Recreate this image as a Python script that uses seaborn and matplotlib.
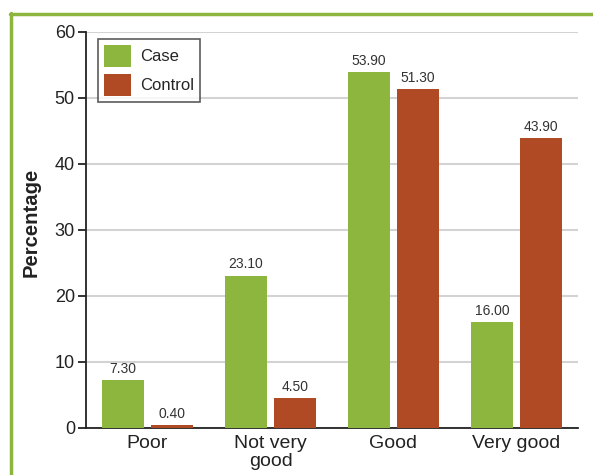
import matplotlib
matplotlib.use("Agg")
import matplotlib.pyplot as plt
import matplotlib.patches as mpatches
import seaborn as sns
import pandas as pd

categories = ["Poor", "Not very\ngood", "Good", "Very good"]
case_values = [7.30, 23.10, 53.90, 16.00]
control_values = [0.40, 4.50, 51.30, 43.90]
groups = ["Case", "Control"]
yticks = [0, 10, 20, 30, 40, 50, 60]

green = "#8db63f"
rust = "#b04a25"

df = pd.DataFrame({
    "category": categories * 2,
    "value": case_values + control_values,
    "group": [groups[0]] * len(categories) + [groups[1]] * len(categories),
})

sns.set_theme(style="white")
plt.rcParams["font.family"] = ["Liberation Sans", "DejaVu Sans"]

W, H = 593, 475
fig = plt.figure(figsize=(W / 100, H / 100), dpi=100)
ax = fig.add_axes([86 / W, 47 / H, (578 - 86) / W, (428 - 32) / H])

sns.barplot(data=df, x="category", y="value", hue="group",
            palette=[green, rust], width=0.8, gap=0.16,
            saturation=1, ax=ax, legend=False, zorder=3,
            linewidth=0, edgecolor="none")

ax.set_ylim(0, 60)
ax.set_xlim(-0.5, len(categories) - 0.5)
ax.set_yticks(yticks)
ax.set_yticklabels([str(t) for t in yticks], fontsize=13, color="#222222")
ax.yaxis.grid(True, color="#d3d3d3", linewidth=1.5, zorder=0)
ax.set_axisbelow(True)

# category labels centred, tick marks on group boundaries
ax.set_xticks(range(len(categories)))
ax.set_xticklabels(categories, fontsize=14, color="#222222", linespacing=1.1)
ax.tick_params(axis="x", length=0, pad=5)
ax.set_xticks([i - 0.5 for i in range(len(categories) + 1)], minor=True)
ax.tick_params(axis="x", which="minor", length=7, width=1.3, color="#222222", direction="out")
ax.tick_params(axis="y", length=6, width=1.3, color="#222222", direction="out", left=True, pad=2)

for side in ["top", "right"]:
    ax.spines[side].set_visible(False)
for side in ["left", "bottom"]:
    ax.spines[side].set_color("#222222")
    ax.spines[side].set_linewidth(1.3)

ax.set_xlabel("")
ax.set_ylabel("Percentage", fontsize=14.6, fontweight="bold", color="#222222")
ax.yaxis.set_label_coords(-0.093, 0.52)

for container in ax.containers:
    ax.bar_label(container, labels=[f"{v:.2f}" for v in container.datavalues],
                 fontsize=10, color="#333333", padding=3)

handles = [mpatches.Patch(facecolor=green, edgecolor="none", label=groups[0]),
           mpatches.Patch(facecolor=rust, edgecolor="none", label=groups[1])]
leg = ax.legend(handles=handles, loc="upper left", bbox_to_anchor=(0.024, 0.983),
                fontsize=12, frameon=True, fancybox=False, shadow=False,
                handlelength=1.6, handleheight=1.65, handletextpad=0.55,
                borderpad=0.38, labelspacing=0.4, borderaxespad=0)
leg.get_frame().set_edgecolor("#333333")
leg.get_frame().set_linewidth(1.2)

# green outer frame
fig.add_artist(plt.Line2D([10.5 / W, 10.5 / W], [0, 1 - 13 / H], color=green,
                          linewidth=2.5, transform=fig.transFigure))
fig.add_artist(plt.Line2D([10 / W, 1], [1 - 13.5 / H, 1 - 13.5 / H], color=green,
                          linewidth=2.5, transform=fig.transFigure))

fig.savefig("out.png", dpi=100)
